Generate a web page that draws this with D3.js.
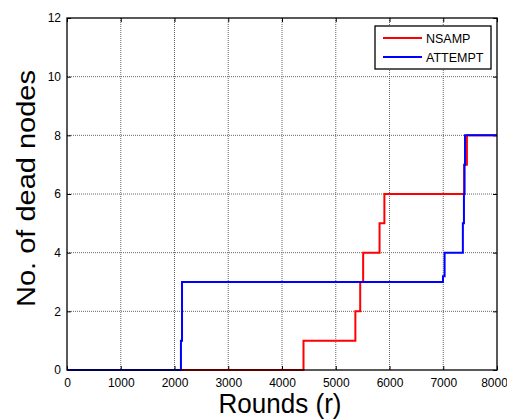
<!DOCTYPE html>
<html><head><meta charset="utf-8">
<script src="https://cdn.jsdelivr.net/npm/d3@7"></script>
<style>body{margin:0;background:#fff}svg{display:block}</style>
</head><body>
<svg id="c" width="507" height="419"></svg>
<script>
const nsampRounds = [0, 4400, 5365, 5455, 5510, 5815, 5905, 7390, 7440, 8000];
const nsampValues = [0, 1, 2, 3, 4, 5, 6, 7, 8, 8];
const attemptRounds = [0, 2120, 2140, 6995, 7025, 7365, 7385, 7395, 7405, 8000];
const attemptValues = [0, 1, 3, 3.2, 4, 5, 6, 7, 8, 8];
const xTicks = [0, 1000, 2000, 3000, 4000, 5000, 6000, 7000, 8000];
const yTicks = [0, 2, 4, 6, 8, 10, 12];
const seriesNames = ["NSAMP", "ATTEMPT"];
const seriesColors = ["#ff0000", "#0000ff"];

const L = 67, R = 497, T = 18, B = 370;
const svg = d3.select("#c");
const x = d3.scaleLinear().domain([0, 8000]).range([L, R]);
const y = d3.scaleLinear().domain([0, 12]).range([B, T]);
const font = "Liberation Sans, Arial, sans-serif";

// grid
const g = svg.append("g");
g.selectAll(".gx").data(xTicks.slice(1, -1)).enter().append("line")
  .attr("x1", d => x(d)).attr("x2", d => x(d)).attr("y1", T).attr("y2", B)
  .attr("stroke", "#666").attr("stroke-dasharray", "1,1").attr("stroke-width", 1);
g.selectAll(".gy").data(yTicks.slice(1, -1)).enter().append("line")
  .attr("y1", d => y(d)).attr("y2", d => y(d)).attr("x1", L).attr("x2", R)
  .attr("stroke", "#666").attr("stroke-dasharray", "1,1").attr("stroke-width", 1);

// axes (inward ticks)
svg.append("g").attr("transform", `translate(0,${B})`)
  .call(d3.axisBottom(x).tickValues(xTicks).tickFormat(d3.format("d")).tickSizeInner(-4).tickSizeOuter(0).tickPadding(8))
  .call(a => a.select(".domain").remove())
  .call(a => a.selectAll("text").attr("font-family", font).attr("font-size", 12).attr("fill", "#000"))
  .call(a => a.selectAll(".tick:last-of-type text").attr("dx", -3));
svg.append("g").attr("transform", `translate(0,${T})`)
  .call(d3.axisTop(x).tickValues(xTicks).tickSizeInner(-4).tickSizeOuter(0).tickFormat(""))
  .call(a => a.select(".domain").remove());
svg.append("g").attr("transform", `translate(${L},0)`)
  .call(d3.axisLeft(y).tickValues(yTicks).tickSizeInner(-4).tickSizeOuter(0).tickPadding(6))
  .call(a => a.select(".domain").remove())
  .call(a => a.selectAll("text").attr("font-family", font).attr("font-size", 12).attr("fill", "#000"));
svg.append("g").attr("transform", `translate(${R},0)`)
  .call(d3.axisRight(y).tickValues(yTicks).tickSizeInner(-4).tickSizeOuter(0).tickFormat(""))
  .call(a => a.select(".domain").remove());

// series
const line = d3.line().x(d => x(d[0])).y(d => y(d[1])).curve(d3.curveStepAfter);
const series = [
  d3.zip(nsampRounds, nsampValues),
  d3.zip(attemptRounds, attemptValues)
];
series.forEach((s, i) => {
  svg.append("path").datum(s).attr("d", line).attr("fill", "none")
    .attr("stroke", seriesColors[i]).attr("stroke-width", 2);
});

// box
svg.append("rect").attr("x", L).attr("y", T).attr("width", R - L).attr("height", B - T)
  .attr("fill", "none").attr("stroke", "#000").attr("stroke-width", 1.3);

// legend
const lg = svg.append("g");
lg.append("rect").attr("x", 375).attr("y", 26).attr("width", 116).attr("height", 43)
  .attr("fill", "#fff").attr("stroke", "#000").attr("stroke-width", 1.3);
seriesNames.forEach((n, i) => {
  const yy = 38 + i * 19;
  lg.append("line").attr("x1", 383).attr("x2", 422).attr("y1", yy).attr("y2", yy)
    .attr("stroke", seriesColors[i]).attr("stroke-width", 2);
  lg.append("text").attr("x", 426).attr("y", yy + 4.5).text(n)
    .attr("font-family", font).attr("font-size", 12.5).attr("fill", "#000");
});

// axis labels
svg.append("text").attr("x", 280).attr("y", 413).attr("text-anchor", "middle")
  .attr("font-family", font).attr("font-size", 27)
  .attr("textLength", 123).attr("lengthAdjust", "spacingAndGlyphs")
  .text("Rounds (r)");
svg.append("text").attr("transform", `translate(35,188.5) rotate(-90)`)
  .attr("text-anchor", "middle").attr("font-family", font).attr("font-size", 26)
  .attr("textLength", 237).attr("lengthAdjust", "spacingAndGlyphs")
  .text("No. of dead nodes");
</script>
</body></html>
